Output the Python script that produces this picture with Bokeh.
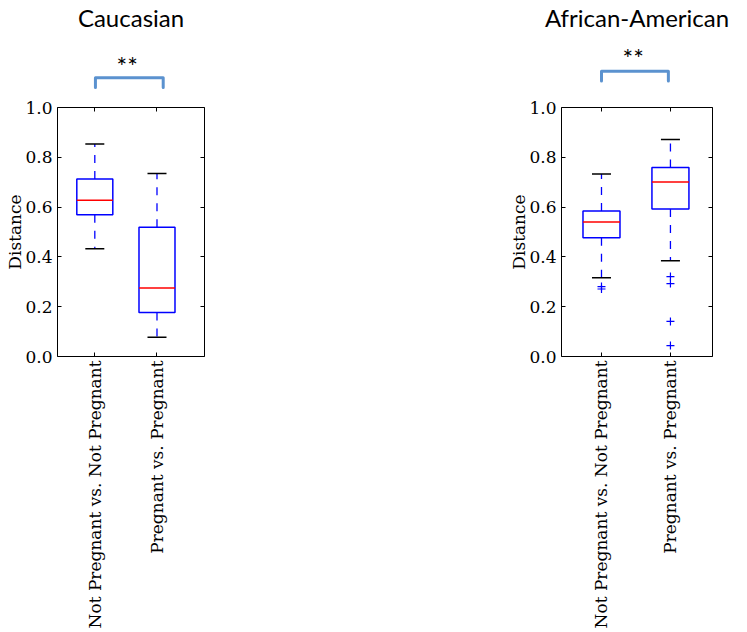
import math
from bokeh.plotting import figure
from bokeh.models import (FixedTicker, LinearAxis, Range1d, PrintfTickFormatter,
                          CustomLabelingPolicy)
from bokeh.layouts import row, column
from bokeh.embed import file_html
from bokeh.resources import INLINE
from bokeh.core.properties import value

# ---------------- data ----------------
groups = ["Not Pregnant vs. Not Pregnant", "Pregnant vs. Pregnant"]
positions = [1, 2]
y_ticks = [0.0, 0.2, 0.4, 0.6, 0.8, 1.0]

cau_q1 = [0.569, 0.177]
cau_med = [0.628, 0.275]
cau_q3 = [0.713, 0.519]
cau_lo = [0.433, 0.077]
cau_hi = [0.853, 0.735]
cau_out_x = []
cau_out_y = []

aa_q1 = [0.477, 0.592]
aa_med = [0.540, 0.701]
aa_q3 = [0.584, 0.759]
aa_lo = [0.316, 0.385]
aa_hi = [0.733, 0.871]
aa_out_x = [1, 1, 2, 2, 2, 2]
aa_out_y = [0.281, 0.271, 0.321, 0.293, 0.141, 0.044]

titles = ["Caucasian", "African-American"]
significance = ["**", "**"]

SERIF = "DejaVu Serif"
SANS = "Lato"
BRACKET = "#5b92cf"

FRAME_H = 250      # px for one unit of distance
TOP_B = 10         # panel border above the frame
HEAD_H = 96        # header strip height
TITLE_H = 29       # height taken by the title inside the header
PANEL_H = 535
NO_LABELS = CustomLabelingPolicy(code="return new Set()")


def panel(q1, med, q3, lo, hi, ox, oy, xr, width, bl, br, box_w, cap_w):
    p = figure(width=width, height=PANEL_H, x_range=xr,
               y_range=Range1d(0, 1), toolbar_location=None,
               output_backend="svg", min_border_left=bl,
               min_border_right=br, min_border_top=TOP_B,
               min_border_bottom=PANEL_H - TOP_B - FRAME_H)
    p.grid.visible = False
    p.outline_line_color = "black"
    p.outline_line_width = 1
    p.background_fill_color = "white"
    p.border_fill_color = "white"

    mid = [(a + b) / 2 for a, b in zip(q1, q3)]
    hgt = [b - a for a, b in zip(q1, q3)]
    p.segment(x0=positions, y0=q3, x1=positions, y1=hi, line_color="blue",
              line_width=1.3, line_dash="8 8")
    p.segment(x0=positions, y0=q1, x1=positions, y1=lo, line_color="blue",
              line_width=1.3, line_dash="8 8")
    p.rect(x=positions, y=mid, width=box_w, height=hgt, width_units="screen",
           fill_color=None, line_color="blue", line_width=1.5)
    p.scatter(x=positions + positions, y=hi + lo, marker="dash", size=cap_w,
              line_color="black", line_width=1.5)
    p.scatter(x=positions, y=med, marker="dash", size=box_w,
              line_color="red", line_width=1.5)
    if ox:
        p.scatter(x=ox, y=oy, marker="cross", size=8, line_color="blue",
                  line_width=1.2)

    xa = p.xaxis[0]
    xa.ticker = FixedTicker(ticks=positions)
    xa.major_label_overrides = {pos: g for pos, g in zip(positions, groups)}
    xa.major_label_orientation = math.pi / 2
    ya = p.yaxis[0]
    ya.ticker = FixedTicker(ticks=y_ticks)
    ya.formatter = PrintfTickFormatter(format="%.1f")
    ya.axis_label = "Distance"
    ya.axis_label_text_font = SERIF
    ya.axis_label_text_font_size = "17px"
    ya.axis_label_text_font_style = "normal"
    ya.axis_label_text_color = "black"
    ya.axis_label_standoff = -3
    for ax in (xa, ya):
        ax.major_label_text_font = SERIF
        ax.major_label_text_font_size = "17px"
        ax.major_label_text_color = "black"
        ax.major_label_standoff = 5
        ax.major_tick_in = 4
        ax.major_tick_out = 0
        ax.minor_tick_line_color = None
        ax.axis_line_color = None
        ax.major_tick_line_color = "black"
    xa.major_label_standoff = 4

    right = LinearAxis(ticker=FixedTicker(ticks=y_ticks),
                       major_label_policy=NO_LABELS, major_label_standoff=0,
                       major_tick_in=4, major_tick_out=0,
                       minor_tick_line_color=None, axis_line_color=None)
    top = LinearAxis(ticker=FixedTicker(ticks=positions),
                     major_label_policy=NO_LABELS, major_label_standoff=0,
                     major_tick_in=4, major_tick_out=0,
                     minor_tick_line_color=None, axis_line_color=None)
    p.add_layout(right, "right")
    p.add_layout(top, "above")
    return p


def header(title, sig, xr, width, bl, br, title_off, star_x, star_y,
           br_x, br_y, br_leg):
    hy = (1 + TOP_B / FRAME_H, 1 + (TOP_B + HEAD_H - TITLE_H) / FRAME_H)
    h = figure(width=width, height=HEAD_H, x_range=xr,
               y_range=Range1d(*hy), toolbar_location=None,
               output_backend="svg", x_axis_type=None, y_axis_type=None,
               min_border_left=bl, min_border_right=br, min_border_top=0,
               min_border_bottom=0, title=title)
    h.title.align = "center"
    h.title.offset = title_off
    h.title.standoff = 0
    h.title.text_font = SANS
    h.title.text_font_size = "24px"
    h.title.text_font_style = "normal"
    h.title.text_color = "black"
    h.grid.visible = False
    h.outline_line_color = None
    h.background_fill_color = "white"
    h.border_fill_color = "white"
    h.text(x=[star_x], y=[star_y], text=[sig], text_font=value(SANS),
           text_font_size=value("25px"), text_align="center",
           text_baseline="middle", text_color="black")
    x0, x1 = br_x
    h.line(x=[x0, x0, x1, x1], y=[br_leg, br_y, br_y, br_leg],
           line_color=BRACKET, line_width=3, line_join="round",
           line_cap="round")
    return h


W1, BL1, BR1 = 504, 57, 300
W2, BL2, BR2 = 242, 57, 34
XR1 = Range1d(0.4, 2.764)
XR2 = Range1d(0.42, 2.61)

p1 = panel(cau_q1, cau_med, cau_q3, cau_lo, cau_hi, cau_out_x, cau_out_y,
           XR1, W1, BL1, BR1, 36, 19)
p2 = panel(aa_q1, aa_med, aa_q3, aa_lo, aa_hi, aa_out_x, aa_out_y,
           XR2, W2, BL2, BR2, 37, 19)
h1 = header(titles[0], significance[0], XR1, W1, BL1, BR1,
            3.5, 1.52, 1.165, (1.01, 2.10), 1.117, 1.077)
h2 = header(titles[1], significance[1], XR2, W2, BL2, BR2,
            2.5, 1.46, 1.20, (1.0, 1.97), 1.144, 1.104)

layout = row(column(h1, p1), column(h2, p2))
open("out.html", "w").write(file_html(layout, INLINE))
